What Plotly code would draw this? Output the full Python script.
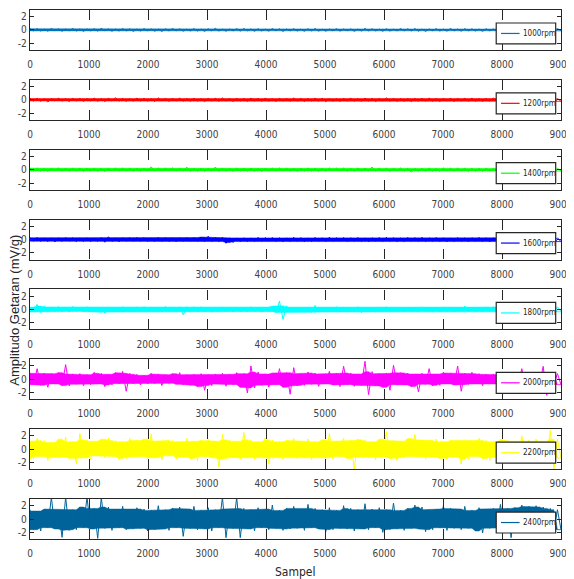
import numpy as np
import plotly.graph_objects as go
from plotly.subplots import make_subplots

# ---------------- data (decimated peak samples of each signal) ----------------
labels = ["1000rpm", "1200rpm", "1400rpm", "1600rpm", "1800rpm", "2000rpm", "2200rpm", "2400rpm"]
colors = ["#0072BD", "#FF0000", "#00FF00", "#0000FF", "#00FFFF", "#FF00FF", "#FFFF00", "#00639A"]
x_ticks = [0, 1000, 2000, 3000, 4000, 5000, 6000, 7000, 8000, 9000]
y_ticks = [-2, 0, 2]
y_ticktext = ["-2", "0", "2"]
n_samples = 9000

rpm1000 = [0.18,-0.14,0.21,-0.16,0.12,-0.19,0.23,-0.13,0.17,-0.2,0.15,-0.12,0.22,-0.17,0.14,
           -0.21,0.16,-0.13,0.19,-0.18,0.24,-0.12,0.15,-0.2,0.13,-0.16,0.21,-0.14,0.18,-0.22,
           0.14,-0.17,0.2,-0.12,0.16,-0.19,0.13,-0.23,0.18,-0.15,0.22,-0.13,0.17,-0.18,0.12,
           -0.15,0.2,-0.17,0.14,-0.21,0.18,-0.12,0.25,-0.16,0.13,-0.19,0.15,-0.14,0.2,-0.17,
           0.22,-0.13,0.16,-0.2,0.19,-0.15,0.13,-0.18,0.21,-0.12,0.17,-0.22,0.15,-0.14,0.19,
           -0.16,0.13,-0.2,0.18,-0.14,0.22,-0.17,0.12,-0.19,0.16,-0.13,0.2,-0.18,0.15,-0.12,
           0.17,-0.21,0.14,-0.16,0.23,-0.13,0.18,-0.15,0.12,-0.2,0.19,-0.17,0.13,-0.14,0.21,
           -0.13,0.18,-0.15,0.21,-0.19,0.14,-0.22,0.16,-0.12,0.2,-0.16,0.13,-0.18,0.22,-0.14,
           0.15,-0.18,0.2,-0.13,0.17,-0.16,0.14,-0.21,0.19,-0.12,0.16,-0.19,0.21,-0.15,0.13,
           -0.19,0.14,-0.17,0.2,-0.13,0.18,-0.2,0.15,-0.14,0.17,-0.18,0.13,-0.16,0.21,-0.12]

rpm1200 = [0.2,-0.18,0.25,-0.22,0.17,-0.33,0.21,-0.16,0.24,-0.2,0.18,-0.26,0.22,-0.17,0.2,
           -0.24,0.19,-0.16,0.27,-0.21,0.18,-0.25,0.22,-0.17,0.3,-0.19,0.21,-0.23,0.16,-0.2,
           0.26,-0.18,0.22,-0.2,0.17,-0.24,0.3,-0.16,0.21,-0.22,0.19,-0.17,0.25,-0.2,0.18,
           -0.21,0.24,-0.19,0.17,-0.26,0.2,-0.16,0.23,-0.22,0.28,-0.18,0.19,-0.24,0.21,-0.17,
           0.19,-0.23,0.26,-0.17,0.2,-0.21,0.24,-0.19,0.16,-0.25,0.22,-0.18,0.2,-0.22,0.27,
           -0.18,0.21,-0.24,0.19,-0.17,0.25,-0.2,0.23,-0.28,0.18,-0.21,0.16,-0.23,0.2,-0.19,
           0.24,-0.2,0.17,-0.22,0.26,-0.18,0.21,-0.25,0.19,-0.16,0.28,-0.21,0.2,-0.23,0.18,
           -0.22,0.19,-0.26,0.2,-0.17,0.23,-0.19,0.27,-0.21,0.18,-0.24,0.2,-0.16,0.22,-0.25,
           0.21,-0.17,0.23,-0.2,0.25,-0.22,0.18,-0.24,0.2,-0.19,0.26,-0.17,0.22,-0.21,0.24,
           -0.2,0.23,-0.18,0.21,-0.25,0.19,-0.22,0.17,-0.2,0.24,-0.19,0.22,-0.17,0.2,-0.23]

rpm1400 = [0.22,-0.19,0.26,-0.21,0.18,-0.24,0.2,-0.17,0.25,-0.22,0.19,-0.2,0.23,-0.18,0.21,
           -0.25,0.2,-0.18,0.24,-0.22,0.19,-0.26,0.21,-0.17,0.23,-0.2,0.25,-0.19,0.22,-0.21,
           0.2,-0.23,0.18,-0.2,0.42,-0.21,0.24,-0.19,0.22,-0.18,0.26,-0.2,0.21,-0.19,0.38,
           -0.24,0.19,-0.22,0.2,-0.25,0.18,-0.21,0.4,-0.23,0.2,-0.22,0.18,-0.25,0.23,-0.19,
           0.21,-0.2,0.24,-0.22,0.19,-0.26,0.2,-0.18,0.23,-0.21,0.25,-0.19,0.22,-0.2,0.18,
           -0.23,0.21,-0.19,0.26,-0.2,0.22,-0.24,0.18,-0.21,0.25,-0.17,0.23,-0.2,0.24,-0.22,
           0.19,-0.21,0.25,-0.18,0.22,-0.2,0.4,-0.2,0.23,-0.19,0.21,-0.24,0.2,-0.18,0.26,
           -0.21,0.22,-0.38,0.2,-0.23,0.19,-0.2,0.24,-0.22,0.18,-0.21,0.25,-0.19,0.23,-0.2,
           0.24,-0.19,0.22,-0.25,0.18,-0.21,0.2,-0.26,0.23,-0.2,0.19,-0.24,0.21,-0.22,0.18,
           -0.23,0.2,-0.21,0.25,-0.19,0.22,-0.24,0.18,-0.2,0.23,-0.22,0.19,-0.26,0.21,-0.2]

rpm1600 = [0.28,-0.24,0.32,-0.27,0.22,-0.3,0.26,-0.35,0.25,-0.28,0.3,-0.23,0.27,-0.32,0.24,
           -0.29,0.26,-0.31,0.23,-0.27,0.3,-0.4,0.42,-0.28,0.24,-0.33,0.27,-0.22,0.29,-0.26,
           0.31,-0.25,0.28,-0.3,0.24,-0.27,0.33,-0.29,0.3,-0.28,0.25,-0.31,0.27,-0.24,0.3,
           -0.25,0.3,-0.27,0.38,-0.3,0.5,-0.28,0.3,-0.3,0.35,-0.55,0.27,-0.45,0.25,-0.3,
           0.27,-0.3,0.25,-0.28,0.33,-0.26,0.29,-0.24,0.31,-0.27,0.28,-0.32,0.26,-0.29,0.35,
           -0.26,0.29,-0.33,0.25,-0.28,0.32,-0.24,0.27,-0.3,0.35,-0.26,0.28,-0.25,0.31,-0.29,
           0.28,-0.26,0.31,-0.29,0.25,-0.32,0.27,-0.24,0.3,-0.28,0.33,-0.26,0.29,-0.31,0.24,
           -0.28,0.32,-0.25,0.29,-0.27,0.34,-0.3,0.26,-0.24,0.31,-0.28,0.27,-0.33,0.25,-0.29,
           0.3,-0.27,0.26,-0.31,0.28,-0.25,0.32,-0.29,0.27,-0.34,0.25,-0.28,0.3,-0.26,0.29,
           -0.27,0.31,-0.26,0.28,-0.3,0.25,-0.33,0.29,-0.27,0.32,-0.25,0.28,-0.31,0.26,-0.3]

rpm1800 = [0.35,-0.4,0.75,-0.45,0.5,-0.32,0.38,-0.3,0.42,-0.36,0.33,-0.4,0.45,-0.3,0.37,
           -0.35,0.4,-0.33,0.36,-0.42,0.3,-0.55,0.35,-0.4,0.32,-0.37,0.41,-0.3,0.36,-0.34,
           0.38,-0.34,0.42,-0.3,0.36,-0.4,0.33,-0.37,0.45,-0.32,0.38,-0.35,0.4,-0.8,0.4,
           -0.36,0.4,-0.33,0.4,-0.37,0.31,-0.42,0.35,-0.3,0.38,-0.36,0.33,-0.4,0.37,-0.34,
           0.32,-0.38,0.4,-0.35,0.3,-0.41,0.36,-0.33,0.5,-0.45,1.25,-1.5,0.55,-0.38,0.35,
           -0.4,0.33,-0.37,0.38,-0.45,0.6,-0.42,0.36,-0.4,0.33,-0.37,0.41,-0.3,0.38,-0.36,
           0.36,-0.33,0.4,-0.5,0.35,-0.38,0.32,-0.42,0.37,-0.34,0.4,-0.36,0.31,-0.39,0.35,
           -0.37,0.33,-0.4,0.36,-0.32,0.39,-0.35,0.3,-0.41,0.34,-0.36,0.38,-0.33,0.35,-0.4,
           0.32,-0.36,0.5,-0.37,0.34,-0.4,0.3,-0.35,0.38,-0.33,0.42,-0.36,0.31,-0.39,0.35,
           -0.34,0.4,-0.31,0.37,-0.36,0.33,-0.4,0.35,-0.3,0.38,-0.34,0.36,-0.32,0.39,-0.35]

rpm2000 = [0.9,-0.8,1.6,-0.9,0.9,-1.2,0.85,-0.7,1.0,-0.95,2.2,-1.0,0.8,-0.75,0.85,
           -0.95,0.7,-0.8,1.05,-0.7,0.9,-1.1,0.75,-0.85,1.0,-0.65,1.2,-1.8,0.9,-0.7,
           0.75,-0.85,0.6,-0.7,0.9,-0.65,0.8,-0.95,0.7,-0.6,0.85,-0.75,1.0,-0.8,0.7,
           -0.9,0.75,-1.1,0.85,-1.65,0.7,-0.95,0.8,-0.7,0.9,-1.05,0.75,-0.8,1.0,-1.2,
           0.85,-2.05,2.0,-1.3,1.1,-0.9,0.8,-1.15,0.95,-0.8,1.6,-1.2,1.0,-2.25,1.75,
           -1.0,0.85,-0.9,1.1,-0.75,0.95,-1.05,0.8,-0.7,1.2,-0.85,0.9,-1.1,1.95,-0.8,
           0.95,-1.05,0.8,-0.9,2.7,-2.3,1.15,-1.0,0.85,-1.2,0.9,-1.65,2.1,-0.8,1.0,
           -0.85,0.95,-1.1,0.8,-1.9,0.9,-0.75,1.6,-1.0,0.8,-0.9,1.05,-0.7,0.95,-0.85,
           2.0,-1.8,0.9,-0.8,1.05,-0.7,0.85,-0.95,0.75,-0.65,0.8,-0.9,0.7,-0.75,0.85,
           -0.7,0.9,-0.8,1.6,-0.95,0.75,-0.85,1.0,-0.7,1.95,-2.4,0.9,-0.75,0.85,-0.8]

rpm2200 = [1.2,-1.5,1.6,-1.1,1.3,-1.7,1.0,-1.3,1.5,-1.2,1.8,-1.4,1.1,-2.2,2.35,
           -1.3,1.4,-1.6,1.2,-1.0,1.5,-1.3,1.7,-1.1,1.3,-1.5,1.1,-1.4,1.6,-1.2,
           1.3,-1.1,1.5,-1.4,2.25,-1.3,1.2,-1.6,1.4,-1.0,1.3,-1.5,1.1,-1.2,1.6,
           -1.4,1.2,-1.7,1.3,-1.1,1.5,-1.3,1.2,-2.65,2.2,-1.5,1.4,-1.3,1.2,-1.5,
           2.5,-1.3,1.4,-1.6,1.1,-1.2,1.7,-2.25,1.4,-1.3,1.1,-1.5,1.3,-1.2,1.6,
           -1.4,1.2,-1.3,1.5,-1.6,1.1,-1.2,1.4,-1.3,2.35,-1.5,1.2,-1.1,1.6,-1.4,
           1.3,-3.0,1.5,-1.2,1.4,-1.3,1.1,-1.6,1.5,-1.2,2.6,-1.4,1.3,-1.7,1.2,
           -1.3,1.6,-1.1,2.2,-1.2,1.4,-1.5,1.3,-1.2,1.5,-1.4,1.1,-1.6,1.3,-1.2,
           1.4,-2.25,1.3,-1.5,1.2,-1.1,1.6,-1.4,1.3,-1.7,1.1,-1.2,1.5,-1.3,1.4,
           -1.5,1.2,-1.3,2.0,-1.4,1.3,-1.1,1.5,-1.4,1.2,-1.6,2.8,-3.0,1.5,-1.3]

rpm2400 = [1.4,-1.6,1.2,-1.8,1.5,-1.3,3.3,-1.5,1.4,-2.75,3.3,-1.7,1.4,-1.6,1.8,
           -1.3,3.3,-1.5,1.6,-2.9,3.3,-1.4,1.8,-1.7,1.5,-1.3,1.9,-1.6,1.4,-1.5,
           1.7,-1.4,1.5,-1.8,1.3,-1.6,2.0,-1.5,1.4,-1.7,1.6,-1.3,1.8,-2.6,1.5,
           -1.4,1.9,-1.6,1.3,-1.5,1.7,-1.8,1.4,-1.3,3.3,-2.8,1.5,-1.4,3.3,-2.8,
           1.6,-1.5,1.4,-1.8,1.7,-1.3,1.5,-1.6,2.1,-1.4,1.3,-1.7,1.6,-1.5,1.9,
           -1.4,1.5,-1.7,2.2,-1.3,1.6,-1.5,1.4,-1.9,1.7,-1.6,1.3,-1.4,2.0,-1.5,
           1.6,-1.8,1.4,-1.5,2.3,-1.6,1.5,-1.3,1.7,-2.0,1.4,-1.6,2.4,-1.5,1.3,
           -1.7,1.6,-1.4,2.1,-1.5,1.8,-1.9,1.4,-1.6,1.5,-1.3,2.0,-1.7,1.6,-1.4,
           1.5,-1.6,1.9,-1.4,1.3,-1.8,1.7,-2.1,1.5,-1.4,1.6,-1.5,2.2,-1.3,1.6,
           -2.8,1.7,-1.5,2.1,-1.4,1.9,-1.6,2.0,-1.3,1.8,-1.5,1.6,-1.7,1.4,-1.6]

series = [rpm1000, rpm1200, rpm1400, rpm1600, rpm1800, rpm2000, rpm2200, rpm2400]

# ---------------- figure ----------------
# the page body has an 8px margin, so the figure is drawn 8px smaller and offset
W, H = 566, 571
ML, MR, MT, MB = 22, 6, 1, 40
plot_w = W - ML - MR
plot_h = H - MT - MB
gap_px = 30
n = len(series)

fig = make_subplots(rows=n, cols=1, vertical_spacing=gap_px / plot_h)

tick_family = "Liberation Sans Narrow, DejaVu Sans Condensed, Arial Narrow, Liberation Sans, Arial, sans-serif"
tick_font = dict(family=tick_family, size=10, color="#404040")
axis_col = "#262626"


def core_band(v):
    """dense solid core of the trace: column min/max without the isolated peaks"""
    nxt = np.append(v[1:], v[-1])
    up = np.maximum(v, nxt)
    lo = np.minimum(v, nxt)
    up_p = np.insert(up[:-1], 0, up[0]); up_n = np.append(up[1:], up[-1])
    lo_p = np.insert(lo[:-1], 0, lo[0]); lo_n = np.append(lo[1:], lo[-1])
    return np.minimum(np.minimum(up_p, up), up_n), np.maximum(np.maximum(lo_p, lo), lo_n)


shapes = []
annotations = []
for i, (vals, lab, col) in enumerate(zip(series, labels, colors)):
    r = i + 1
    v = np.asarray(vals, dtype=float)
    xs = np.linspace(0, n_samples, len(v))
    cu, cl = core_band(v)
    fig.add_trace(go.Scatter(x=np.concatenate([xs, xs[::-1]]),
                             y=np.concatenate([cu, cl[::-1]]),
                             mode="lines", line=dict(color=col, width=0.5),
                             fill="toself", fillcolor=col, showlegend=False, hoverinfo="skip"),
                  row=r, col=1)
    fig.add_trace(go.Scatter(x=xs, y=v, mode="lines", name=lab, line=dict(color=col, width=1),
                             showlegend=False, hoverinfo="skip"),
                  row=r, col=1)
    fig.update_xaxes(range=[0, n_samples], tickvals=x_ticks, ticks="inside", ticklen=10, tickwidth=1,
                     tickcolor=axis_col, showline=True, linecolor=axis_col, linewidth=1.3,
                     mirror="allticks", showgrid=False, zeroline=False, tickfont=tick_font,
                     ticklabelstandoff=5, ticklabeloverflow="allow", row=r, col=1)
    fig.update_yaxes(range=[-3, 3], tickvals=y_ticks, ticktext=y_ticktext, ticks="inside", ticklen=4,
                     tickwidth=1, tickcolor=axis_col, showline=True, linecolor=axis_col, linewidth=1.3,
                     mirror="allticks", showgrid=False, zeroline=False, tickfont=tick_font,
                     row=r, col=1)
    # legend box (drawn like the original: small framed box at the right of each panel)
    xr = "x domain" if i == 0 else f"x{r} domain"
    yr = "y domain" if i == 0 else f"y{r} domain"
    shapes.append(dict(type="rect", xref=xr, yref=yr, x0=0.878, x1=0.99, y0=0.15, y1=0.675,
                       fillcolor="white", line=dict(color=axis_col, width=1.2), layer="above"))
    shapes.append(dict(type="line", xref=xr, yref=yr, x0=0.887, x1=0.922, y0=0.4125, y1=0.4125,
                       line=dict(color=col, width=1.2), layer="above"))
    annotations.append(dict(text=lab, xref=xr, yref=yr, x=0.925, y=0.4125, xanchor="left",
                            yanchor="middle", showarrow=False,
                            font=dict(family=tick_family, size=8, color="#262626")))

annotations.append(dict(text="Sampel", xref="paper", yref="paper", x=0.5, y=(H - MB - 564) / plot_h,
                        xanchor="center", yanchor="middle", showarrow=False,
                        font=dict(family=tick_family, size=12, color="#262626")))
annotations.append(dict(text="Amplitudo Getaran (mV/g)", xref="paper", yref="paper",
                        x=(6 - ML) / plot_w, y=(H - MB - 302) / plot_h, textangle=-90,
                        xanchor="center", yanchor="middle", showarrow=False,
                        font=dict(family="Liberation Sans, Arial, sans-serif", size=13, color="#262626")))

fig.update_layout(width=W, height=H, margin=dict(l=ML, r=MR, t=MT, b=MB),
                  paper_bgcolor="white", plot_bgcolor="white", showlegend=False,
                  shapes=shapes, annotations=annotations)

fig.write_html("out.html")
